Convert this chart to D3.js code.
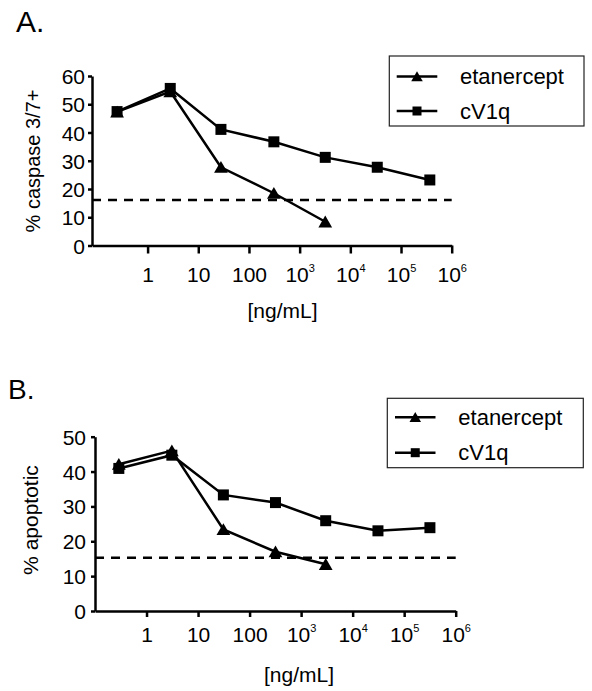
<!DOCTYPE html>
<html><head><meta charset="utf-8">
<script src="https://cdn.jsdelivr.net/npm/d3@7"></script>
<style>
body{margin:0;background:#fff}
svg{display:block}
text{font-family:"Liberation Sans",Arial,sans-serif;fill:#000}
</style>
</head><body>
<svg id="c" width="592" height="691"></svg>
<script>
// ---------- data ----------
const seriesNames = ["etanercept", "cV1q"];
const xTickValues = [1, 10, 100, 1e3, 1e4, 1e5, 1e6];
const xTickBase = ["1", "10", "100", "10", "10", "10", "10"];
const xTickExp = ["", "", "", "3", "4", "5", "6"];

const yTicksA = [0, 10, 20, 30, 40, 50, 60];
const concA = [0.25, 2.8, 28, 310, 3200, 34000, 370000];
const etanA = [47.3, 54.5, 27.7, 18.5, 8.4];
const cv1qA = [47.4, 55.6, 41.1, 36.7, 31.2, 27.7, 23.2];
const baselineA = 16.1;

const yTicksB = [0, 10, 20, 30, 40, 50];
const concB = [0.29, 3.1, 31, 318, 3000, 31000, 316000];
const etanB = [42.1, 46, 23.4, 17.0, 13.4];
const cv1qB = [40.9, 44.7, 33.3, 31.1, 25.9, 23.0, 23.9];
const baselineB = 15.3;

// ---------- drawing ----------
const svg = d3.select("#c");
const SW = 2.5;
const triPath = s => `M0,${-s*0.5}L${s*0.55},${s*0.45}L${-s*0.55},${s*0.45}Z`;

function panel(o) {
  const g = svg.append("g");
  const x = d3.scaleLog().domain([o.xMin, 1e6]).range([o.left, o.right]);
  const y = d3.scaleLinear().domain([0, o.yMax]).range([o.bottom, o.top]);

  // title
  g.append("text").attr("x", o.titleX).attr("y", o.titleY)
    .attr("font-size", o.titleSize).text(o.title);

  // x axis
  const xa = g.append("g").attr("transform", `translate(0,${o.bottom})`)
    .call(d3.axisBottom(x).tickValues(xTickValues).tickFormat("")
      .tickSize(o.xTick).tickSizeOuter(0));
  xa.attr("font-family", null).attr("font-size", null);
  xa.select(".domain").attr("stroke", "#000").attr("stroke-width", SW);
  xa.selectAll(".tick line").attr("stroke", "#000").attr("stroke-width", SW);
  xa.selectAll(".tick text").each(function (d, i) {
    const t = d3.select(this).attr("y", o.xLabY).attr("dy", null)
      .attr("font-size", 21).attr("fill", "#000");
    t.text(null);
    t.append("tspan").text(xTickBase[i]);
    if (xTickExp[i]) t.append("tspan").attr("dy", -10).attr("font-size", 11).text(xTickExp[i]);
  });

  // y axis
  const ya = g.append("g").attr("transform", `translate(${o.left},0)`)
    .call(d3.axisLeft(y).tickValues(o.yTicks).tickSize(4).tickSizeOuter(0).tickPadding(o.yPad));
  ya.attr("font-family", null).attr("font-size", null);
  ya.select(".domain").attr("stroke", "#000").attr("stroke-width", SW);
  ya.selectAll(".tick line").attr("stroke", "#000").attr("stroke-width", SW);
  ya.selectAll(".tick text").attr("font-size", 21).attr("fill", "#000").attr("dy", "0.36em");

  // axis titles
  g.append("text").attr("transform", `translate(${o.yLabX},${o.yLabY}) rotate(-90)`)
    .attr("text-anchor", "middle").attr("font-size", o.yLabSize).text(o.yLabel);
  g.append("text").attr("x", o.xTitleX).attr("y", o.xTitleY)
    .attr("text-anchor", "middle").attr("font-size", 21).text("[ng/mL]");

  // dashed baseline
  g.append("line").attr("x1", o.left).attr("x2", o.right)
    .attr("y1", y(o.base)).attr("y2", y(o.base))
    .attr("stroke", "#000").attr("stroke-width", SW).attr("stroke-dasharray", "9,7");

  const line = d3.line().x(d => x(d.c)).y(d => y(d.v));
  const cvData = o.cv.map((v, i) => ({ c: o.conc[i], v }));
  const etData = o.et.map((v, i) => ({ c: o.conc[i], v }));

  g.append("path").datum(cvData).attr("d", line).attr("fill", "none")
    .attr("stroke", "#000").attr("stroke-width", SW);
  g.append("path").datum(etData).attr("d", line).attr("fill", "none")
    .attr("stroke", "#000").attr("stroke-width", SW);

  const sq = 11;
  const drawSquares = () => g.selectAll(null).data(cvData).enter().append("rect")
    .attr("x", d => x(d.c) - sq / 2).attr("y", d => y(d.v) - sq / 2)
    .attr("width", sq).attr("height", sq).attr("fill", "#000");
  const drawTris = () => g.selectAll(null).data(etData).enter().append("path")
    .attr("d", triPath(12.5))
    .attr("transform", d => `translate(${x(d.c)},${y(d.v)})`).attr("fill", "#000");
  if (o.triOnTop) { drawSquares(); drawTris(); } else { drawTris(); drawSquares(); }

  // legend
  const L = o.legend;
  g.append("rect").attr("x", L.x).attr("y", L.y).attr("width", L.w).attr("height", L.h)
    .attr("fill", "none").attr("stroke", "#222").attr("stroke-width", 1.2);
  seriesNames.forEach((name, i) => {
    const ly = L.rows[i];
    g.append("line").attr("x1", L.lx1).attr("x2", L.lx2).attr("y1", ly).attr("y2", ly)
      .attr("stroke", "#000").attr("stroke-width", 2.5);
    const mx = (L.lx1 + L.lx2) / 2;
    if (i === 0) {
      g.append("path").attr("d", triPath(10.5)).attr("transform", `translate(${mx},${ly})`).attr("fill", "#000");
    } else {
      g.append("rect").attr("x", mx - 4.5).attr("y", ly - 4.5).attr("width", 9).attr("height", 9).attr("fill", "#000");
    }
    g.append("text").attr("x", L.tx).attr("y", ly + 7.5).attr("font-size", 22).text(name);
  });
}

panel({
  title: "A.", titleX: 16, titleY: 32, titleSize: 30,
  xMin: 0.08, left: 92, right: 451.7, top: 76, bottom: 245.5, yMax: 60,
  yTicks: yTicksA, xTick: 8, xLabY: 36.5, yPad: 3,
  yLabel: "% caspase 3/7+", yLabX: 40, yLabY: 161, yLabSize: 20,
  xTitleX: 282.5, xTitleY: 318,
  conc: concA, et: etanA, cv: cv1qA, base: baselineA, triOnTop: false,
  legend: { x: 389.3, y: 56, w: 194.7, h: 70, rows: [76.5, 111], lx1: 396.7, lx2: 437.3, tx: 460 }
});

panel({
  title: "B.", titleX: 8, titleY: 399, titleSize: 28,
  xMin: 0.1, left: 95, right: 455.7, top: 436.7, bottom: 611, yMax: 50,
  yTicks: yTicksB, xTick: 6, xLabY: 30.7, yPad: 5,
  yLabel: "% apoptotic", yLabX: 38, yLabY: 520, yLabSize: 21,
  xTitleX: 299, xTitleY: 682,
  conc: concB, et: etanB, cv: cv1qB, base: baselineB, triOnTop: true,
  legend: { x: 387.3, y: 398.3, w: 196, h: 69.4, rows: [417.3, 452.7], lx1: 395, lx2: 435.5, tx: 458.3 }
});
</script>
</body></html>
